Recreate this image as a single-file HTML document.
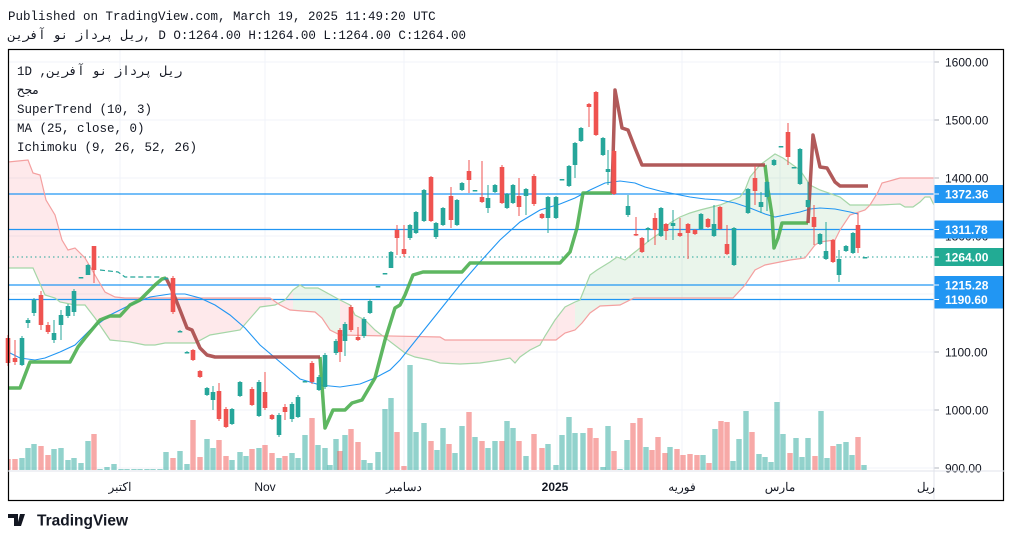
<!DOCTYPE html>
<html><head><meta charset="utf-8"><style>
body{margin:0;background:#fff;width:1012px;height:541px;overflow:hidden;font-family:"Liberation Mono","DejaVu Sans Mono","Noto Sans CJK SC",monospace;}
svg{position:absolute;left:0;top:0}
</style></head><body>
<svg id="s" width="1012" height="541" xmlns="http://www.w3.org/2000/svg">
<defs>
<clipPath id="plot"><rect x="8" y="50" width="926" height="421"/></clipPath>
<clipPath id="cr"><rect x="8" y="50" width="285" height="421"/><rect x="340" y="50" width="235" height="421"/><rect x="870" y="50" width="64" height="421"/></clipPath>
<clipPath id="cg"><rect x="293" y="50" width="47" height="421"/><rect x="575" y="50" width="295" height="421"/></clipPath>
</defs>
<text x="8" y="20" font-size="12.5" fill="#131722" font-family="Liberation Mono, monospace">Published on TradingView.com, March 19, 2025 11:49:20 UTC</text>
<text x="8" y="39" font-size="12.5" fill="#131722" font-family="Liberation Mono, Noto Sans CJK SC, monospace"><tspan>ریل پرداز نو آفرین</tspan>, D O:1264.00 H:1264.00 L:1264.00 C:1264.00</text>
<g id="grid" stroke="#f0f3fa" stroke-width="1"></g>
<g id="cloud"></g>
<g id="vol" clip-path="url(#plot)"></g>
<g id="hl"></g>
<g id="lines" clip-path="url(#plot)" fill="none"></g>
<g id="cdl"></g>
<g id="axis"></g>
<rect x="8.5" y="49.5" width="995" height="451" fill="none" stroke="#000" stroke-width="1.2"/>
<line x1="934" y1="50" x2="934" y2="500" stroke="#e0e3eb"/>
<line x1="8" y1="471" x2="1004" y2="471" stroke="#e0e3eb"/>
<g font-size="12.5" fill="#131722" font-family="Liberation Mono, Noto Sans CJK SC, monospace">
<text x="17" y="75">1D ,<tspan>ریل پرداز نو آفرین</tspan></text>
<text x="17" y="94">مجح</text>
<text x="17" y="113">SuperTrend (10, 3)</text>
<text x="17" y="132">MA (25, close, 0)</text>
<text x="17" y="151">Ichimoku (9, 26, 52, 26)</text>
</g>
<g font-size="12" fill="#131722" font-family="Liberation Sans, Noto Sans CJK SC, sans-serif" text-anchor="middle">
<text x="120" y="491">اکتبر</text>
<text x="265" y="491">Nov</text>
<text x="404" y="491">دسامبر</text>
<text x="555" y="491" font-weight="bold">2025</text>
<text x="682" y="491">فوریه</text>
<text x="780" y="491">مارس</text>
<text x="926" y="491">ریل</text>
</g>
<g transform="translate(8,512)">
<path d="M0 2h10v12h-4V6H0z M12 2h5l-4 12h-4z" fill="#131722"/>
<circle cx="15" cy="4" r="0" fill="#131722"/>
<text x="29" y="13.5" font-size="15.5" font-weight="bold" fill="#131722" font-family="Liberation Sans, sans-serif">TradingView</text>
</g>
</svg>
<script>
const NS="http://www.w3.org/2000/svg";
function el(p,t,a){const e=document.createElementNS(NS,t);for(const k in a)e.setAttribute(k,a[k]);document.getElementById(p).appendChild(e);return e;}
const Y=p=>62+(1600-p)*0.58;
// grid
[1600,1500,1400,1300,1200,1100,1000,900].forEach(p=>el('grid','line',{x1:8,x2:934,y1:Y(p),y2:Y(p)}));
[120,265,404,557,682,780].forEach(x=>el('grid','line',{x1:x,x2:x,y1:50,y2:471}));
// axis labels
[1600,1500,1400,1300,1200,1100,1000,900].forEach(p=>{el('axis','line',{x1:934,x2:939,y1:Y(p),y2:Y(p),stroke:'#b2b5be'});const t=el('axis','text',{x:945,y:Y(p)+4.5,'font-size':12,fill:'#131722','font-family':'Liberation Sans, sans-serif'});t.textContent=p.toFixed(2);});
// cloud
const A=[[8,268],[33,268],[45,295],[55,298],[60,302],[75,305],[85,305],[95,318],[110,340],[130,342],[145,345],[155,345],[165,343],[195,343],[210,335],[240,330],[260,307],[275,305],[285,300],[293,290],[300,285],[305,288],[318,288],[340,300],[350,305],[355,315],[365,320],[375,330],[405,353],[415,357],[430,360],[440,363],[460,364],[480,363],[500,360],[510,358],[515,363],[520,357],[530,350],[540,345],[545,336],[555,320],[565,307],[575,302],[580,300],[590,275],[597,270],[610,262],[617,257],[625,260],[630,256],[650,240],[660,233],[670,223],[680,217],[690,213],[700,210],[720,205],[740,197],[745,190],[750,177],[760,165],[775,154],[783,158],[800,170],[810,185],[820,190],[840,197],[850,205],[880,205],[900,204],[905,207],[913,207],[920,202],[925,197],[930,197],[934,205]];
const B=[[8,162],[28,160],[33,173],[40,175],[46,200],[55,215],[62,240],[68,250],[75,248],[85,258],[95,275],[105,292],[115,297],[125,298],[270,298],[280,305],[290,310],[315,312],[322,318],[330,330],[340,335],[440,337],[445,340],[556,340],[565,333],[575,330],[582,323],[590,313],[600,306],[620,305],[634,298],[733,298],[745,285],[755,270],[765,265],[790,260],[805,258],[815,245],[820,242],[835,240],[840,230],[850,215],[865,210],[870,205],[878,192],[882,183],[893,180],[900,178],[934,178]];
const poly=A.map(p=>p.join(',')).concat(B.slice().reverse().map(p=>p.join(','))).join(' ');
el('cloud','polygon',{points:poly,fill:'rgba(242,54,69,0.11)','clip-path':'url(#cr)'});
el('cloud','polygon',{points:poly,fill:'rgba(67,160,71,0.11)','clip-path':'url(#cg)'});
const pl=a=>a.map(p=>p.join(',')).join(' ');
el('lines','polyline',{points:pl(A),stroke:'#a5d6a7','stroke-width':1.2});
el('lines','polyline',{points:pl(B),stroke:'#f4a0a0','stroke-width':1.2});
// horizontal lines
[194,229.5,285,299.5].forEach(y=>el('hl','line',{x1:8,x2:934,y1:y,y2:y,stroke:'#2196f3','stroke-width':1.2}));
el('hl','line',{x1:8,x2:934,y1:257,y2:257,stroke:'#26a69a','stroke-width':1,'stroke-dasharray':'1.5,3'});
// MA
const MA=[[8,352],[20,358],[35,360],[45,358],[60,352],[75,345],[90,330],[110,315],[130,305],[150,297],[170,294],[185,294],[200,298],[215,305],[230,315],[245,328],[260,345],[280,362],[300,379],[320,385],[340,387],[360,384],[375,378],[390,370],[400,360],[420,335],[440,310],[460,285],[480,262],[500,240],[520,222],[540,210],[560,204],[575,198],[590,190],[605,183],[620,181],[635,183],[645,187],[660,191],[675,194],[690,197],[705,199],[720,200],[735,203],[750,208],[765,214],[775,217],[785,215],[800,212],[810,209],[820,208],[835,209],[850,212],[858,214]];
el('lines','polyline',{points:pl(MA),stroke:'#2196f3','stroke-width':1.1});
// supertrend
const G=[[[8,388],[20,388],[30,362],[70,362],[78,347],[85,338],[100,320],[110,316],[120,316],[130,305],[140,300],[148,292],[155,285],[162,279],[166,278]],
[[320,357],[325,428],[333,410],[345,410],[352,403],[362,400],[375,378],[385,340],[395,308],[400,305],[405,295],[413,275],[423,272],[462,272],[470,263],[560,263],[570,252],[577,228],[583,193],[612,193]],
[[765,165],[768,190],[772,215],[774,248],[778,238],[782,223],[808,223]]];
const R=[[[166,278],[172,290],[180,310],[187,328],[192,330],[200,348],[207,355],[215,357],[320,357]],
[[612,193],[615,90],[622,128],[628,130],[635,148],[642,165],[765,165]],
[[808,223],[813,135],[820,167],[827,168],[835,182],[840,186],[868,186]]];
G.forEach(g=>el('lines','polyline',{points:pl(g),stroke:'#4caf50','stroke-width':3.5,'stroke-opacity':0.9,'stroke-linejoin':'round'}));
R.forEach(g=>el('lines','polyline',{points:pl(g),stroke:'#a84848','stroke-width':3.5,'stroke-opacity':0.9,'stroke-linejoin':'round'}));
// dashes (no-trade days)
el('lines','polyline',{points:'100,270 118,272 125,277 160,277',stroke:'#26a69a','stroke-width':1.2,'stroke-dasharray':'5,3'});
// candles [x, o, c, h, l] in y pixels
const C=[[8,338,363,335,366],[15,358,362,340,365],[22,365,338,336,366],[28,323,320,318,328],[34,313,300,298,316],[41,295,325,291,330],[48,325,332,322,334],[54,340,333,320,343],[61,325,315,310,340],[68,316,306,304,318],[74,312,291,289,316],[81,277,277,277,277],[88,275,265,264,275],[94,246,270,246,283],[166,278,278,277,279],[173,278,312,276,314],[180,331,331,330,332],[187,352,352,351,353],[193,350,360,349,361],[200,371,377,370,378],[207,395,388,387,396],[213,400,392,386,410],[219,391,419,383,421],[226,409,427,407,428],[232,424,409,408,425],[240,396,382,381,397],[252,389,405,387,406],[259,416,382,380,417],[265,392,408,372,410],[272,415,419,414,420],[279,435,415,413,437],[285,407,412,404,420],[292,419,404,402,422],[298,417,397,395,418],[305,381,381,381,382],[312,363,382,361,384],[319,390,377,375,391],[325,387,355,353,389],[336,353,341,339,355],[340,330,352,328,362],[345,341,324,322,356],[351,307,330,305,332],[358,337,340,327,341],[364,336,319,317,338],[370,313,301,299,314],[378,286,286,286,287],[385,273,273,273,274],[391,268,252,251,268],[397,230,238,225,255],[404,249,254,225,257],[410,238,225,224,240],[416,233,212,211,234],[424,221,190,189,222],[431,177,221,176,222],[436,237,223,222,239],[443,225,208,207,226],[451,196,220,187,228],[457,225,200,199,226],[462,190,183,182,191],[469,171,180,160,193],[475,190,190,190,191],[482,197,202,161,203],[488,208,198,185,213],[495,192,185,184,193],[502,167,203,165,204],[507,208,194,193,209],[513,203,185,184,204],[519,196,207,178,216],[526,196,189,188,215],[534,176,204,174,206],[542,214,218,213,219],[548,218,197,196,233],[556,218,197,196,219],[562,179,179,179,180],[569,186,166,165,187],[575,165,143,142,178],[581,141,128,127,142],[589,104,107,103,127],[596,92,135,91,136],[603,155,138,137,156],[608,172,169,150,185],[614,151,194,150,195],[628,215,206,195,217],[636,234,235,217,236],[642,238,252,237,253],[648,230,228,227,242],[655,218,230,213,245],[661,236,208,207,237],[666,224,231,223,240],[673,226,223,210,240],[680,233,236,218,237],[688,224,233,223,259],[695,230,234,229,235],[701,229,214,213,230],[708,219,227,218,228],[714,236,224,205,237],[720,207,229,206,230],[727,244,254,225,255],[734,265,228,227,266],[748,213,189,188,214],[755,178,191,166,205],[761,207,202,192,213],[767,197,182,181,211],[774,165,160,159,166],[781,146,146,146,147],[788,132,157,123,165],[794,167,167,167,168],[800,184,149,148,185],[808,207,200,182,208],[814,217,227,205,245],[820,244,234,233,245],[826,259,251,222,260],[833,240,262,239,263],[839,275,259,250,282],[846,251,246,245,252],[853,253,233,232,254],[858,225,248,213,253],[865,257,257,257,258]];
C.forEach(c=>{const[x,o,cl,h,l]=c;const up=cl<=o;const col=up?'#26a69a':'#ef5350';
el('cdl','line',{x1:x,x2:x,y1:h,y2:l,stroke:col,'stroke-width':1});
const t=Math.min(o,cl),hh=Math.max(Math.abs(o-cl),1.5);el('cdl','rect',{x:x-2.3,y:t,width:4.6,height:hh,fill:col});});
// volume
const V=[[8,459],[15,459],[22,458],[28,448],[34,444],[41,446],[48,455],[54,449],[61,448],[68,460],[74,458],[81,463],[88,441],[94,434],[100,469],[107,467],[114,464],[121,469],[127,469],[134,469],[140,469],[147,469],[153,469],[160,469],[166,452],[173,458],[180,451],[187,464],[193,420],[200,457],[207,439],[213,448],[219,440],[226,456],[232,460],[240,452],[246,456],[252,449],[259,448],[265,445],[272,453],[279,458],[285,456],[292,453],[298,458],[305,435],[312,418],[318,445],[325,448],[330,465],[336,439],[340,451],[345,435],[351,429],[358,442],[364,460],[370,463],[378,452],[385,409],[391,398],[397,432],[404,466],[410,365],[416,432],[424,423],[431,441],[437,450],[443,428],[449,444],[455,453],[462,426],[469,412],[475,437],[482,441],[488,448],[495,441],[502,441],[507,421],[513,428],[519,441],[526,456],[534,434],[542,448],[548,444],[556,465],[562,435],[569,417],[575,433],[583,433],[590,428],[596,438],[603,467],[608,426],[614,451],[620,469],[627,440],[633,423],[640,418],[646,447],[652,450],[658,437],[665,453],[670,447],[677,449],[683,455],[690,454],[697,455],[703,455],[709,463],[715,429],[721,421],[727,422],[733,461],[739,439],[746,411],[752,432],[759,454],[765,457],[771,462],[777,402],[783,434],[790,453],[796,438],[802,457],[808,438],[815,456],[821,411],[827,458],[833,446],[839,444],[846,442],[852,455],[858,437],[864,465]];
V.forEach(v=>{let best=null,bd=1e9;C.forEach(c=>{const d=Math.abs(c[0]-v[0]);if(d<bd){bd=d;best=c;}});const up=bd>4?true:best[2]<=best[1];
el('vol','rect',{x:v[0]-2.7,y:v[1],width:5.4,height:470-v[1],fill:up?'rgba(38,166,154,0.5)':'rgba(239,83,80,0.5)'});});
// price tags
[[194,'1372.36','#2196f3'],[229.5,'1311.78','#2196f3'],[257,'1264.00','#22ab94'],[285,'1215.28','#2196f3'],[299.5,'1190.60','#2196f3']].forEach(t=>{
el('axis','rect',{x:934,y:t[0]-9,width:70,height:18,fill:t[2],rx:1});
el('axis','line',{x1:934,x2:939,y1:t[0],y2:t[0],stroke:'#fff'});
const e=el('axis','text',{x:945,y:t[0]+4.5,'font-size':12,'font-weight':'bold',fill:'#fff','font-family':'Liberation Sans, sans-serif'});e.textContent=t[1];});
</script>
</body></html>
